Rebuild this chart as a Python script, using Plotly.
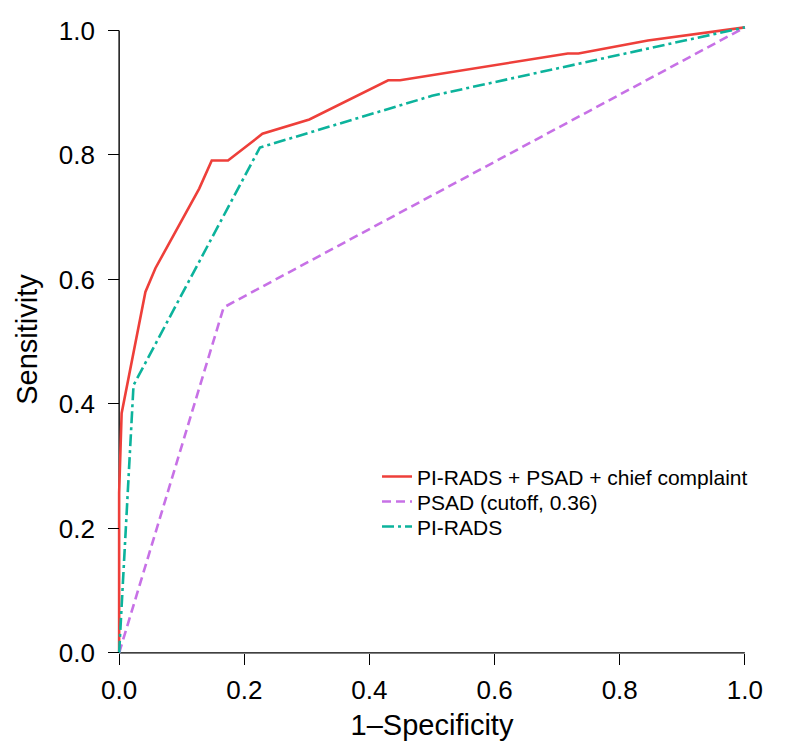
import plotly.graph_objects as go

# ROC curve data
combo_fpr = [0.0, 0.0, 0.004, 0.042, 0.058, 0.128, 0.148, 0.174, 0.229, 0.304, 0.430, 0.449, 0.717, 0.734, 0.845, 1.0]
combo_tpr = [0.0, 0.257, 0.385, 0.580, 0.618, 0.746, 0.791, 0.791, 0.834, 0.857, 0.920, 0.920, 0.963, 0.963, 0.984, 1.005]

psad_fpr = [0.0, 0.167, 1.0]
psad_tpr = [0.0, 0.555, 1.005]

pirads_fpr = [0.0, 0.023, 0.225, 0.500, 1.0]
pirads_tpr = [0.0, 0.430, 0.812, 0.895, 1.005]

names = ["PI-RADS + PSAD + chief complaint", "PSAD (cutoff, 0.36)", "PI-RADS"]
colors = ["#EE3F3A", "#C771E6", "#0CB39C"]

tick_vals = [0.0, 0.2, 0.4, 0.6, 0.8, 1.0]
tick_text = ["0.0", "0.2", "0.4", "0.6", "0.8", "1.0"]

XMIN, XMAX = -0.005, 1.005
YMIN, YMAX = -0.005, 1.012

fig = go.Figure()
fig.add_trace(go.Scatter(x=combo_fpr, y=combo_tpr, mode="lines", name=names[0],
                         legend="legend",
                         line=dict(color=colors[0], width=2.6)))
fig.add_trace(go.Scatter(x=psad_fpr, y=psad_tpr, mode="lines", name=names[1],
                         legend="legend2",
                         line=dict(color=colors[1], width=2.6, dash="9px,5px")))
fig.add_trace(go.Scatter(x=pirads_fpr, y=pirads_tpr, mode="lines", name=names[2],
                         legend="legend3",
                         line=dict(color=colors[2], width=2.6, dash="12px,4px,3px,4px")))

font_family = "Liberation Sans, Arial, Helvetica, sans-serif"
leg_font = dict(size=21, family=font_family, color="black")
leg_common = dict(x=0.413, xanchor="left", yanchor="middle", font=leg_font,
                  bgcolor="rgba(0,0,0,0)", borderwidth=0)

fig.update_layout(
    template="none",
    width=785, height=748,
    # the page body adds an 8px offset; margins compensate for it
    margin=dict(l=108, r=45, t=14.5, b=100, pad=0),
    paper_bgcolor="white", plot_bgcolor="white",
    font=dict(family=font_family, color="black"),
    showlegend=True,
    legend=dict(y=0.283, **leg_common),
    legend2=dict(y=0.2435, **leg_common),
    legend3=dict(y=0.204, **leg_common),
    xaxis=dict(range=[XMIN, XMAX], showgrid=False, zeroline=False, showline=False,
               automargin=False,
               tickmode="array", tickvals=tick_vals, ticktext=tick_text,
               ticks="outside", ticklen=11, tickwidth=1.3, tickcolor="black",
               ticklabelstandoff=3,
               tickfont=dict(size=26), anchor="free",
               position=(0 - YMIN) / (YMAX - YMIN),
               title=dict(text="1\u2013Specificity", font=dict(size=29), standoff=10)),
    yaxis=dict(range=[YMIN, YMAX], showgrid=False, zeroline=False, showline=False,
               automargin=False,
               tickmode="array", tickvals=tick_vals, ticktext=tick_text,
               ticks="outside", ticklen=11, tickwidth=1.3, tickcolor="black",
               ticklabelstandoff=8,
               tickfont=dict(size=26), anchor="free",
               position=(0 - XMIN) / (XMAX - XMIN),
               title=dict(text="Sensitivity", font=dict(size=29), standoff=11)),
)

# axis lines spanning exactly 0..1
fig.add_shape(type="line", x0=0, x1=1, y0=0, y1=0, xref="x", yref="y",
              line=dict(color="black", width=1.4), layer="below")
fig.add_shape(type="line", x0=0, x1=0, y0=0, y1=1, xref="x", yref="y",
              line=dict(color="black", width=1.4), layer="below")

fig.write_html("out.html")
